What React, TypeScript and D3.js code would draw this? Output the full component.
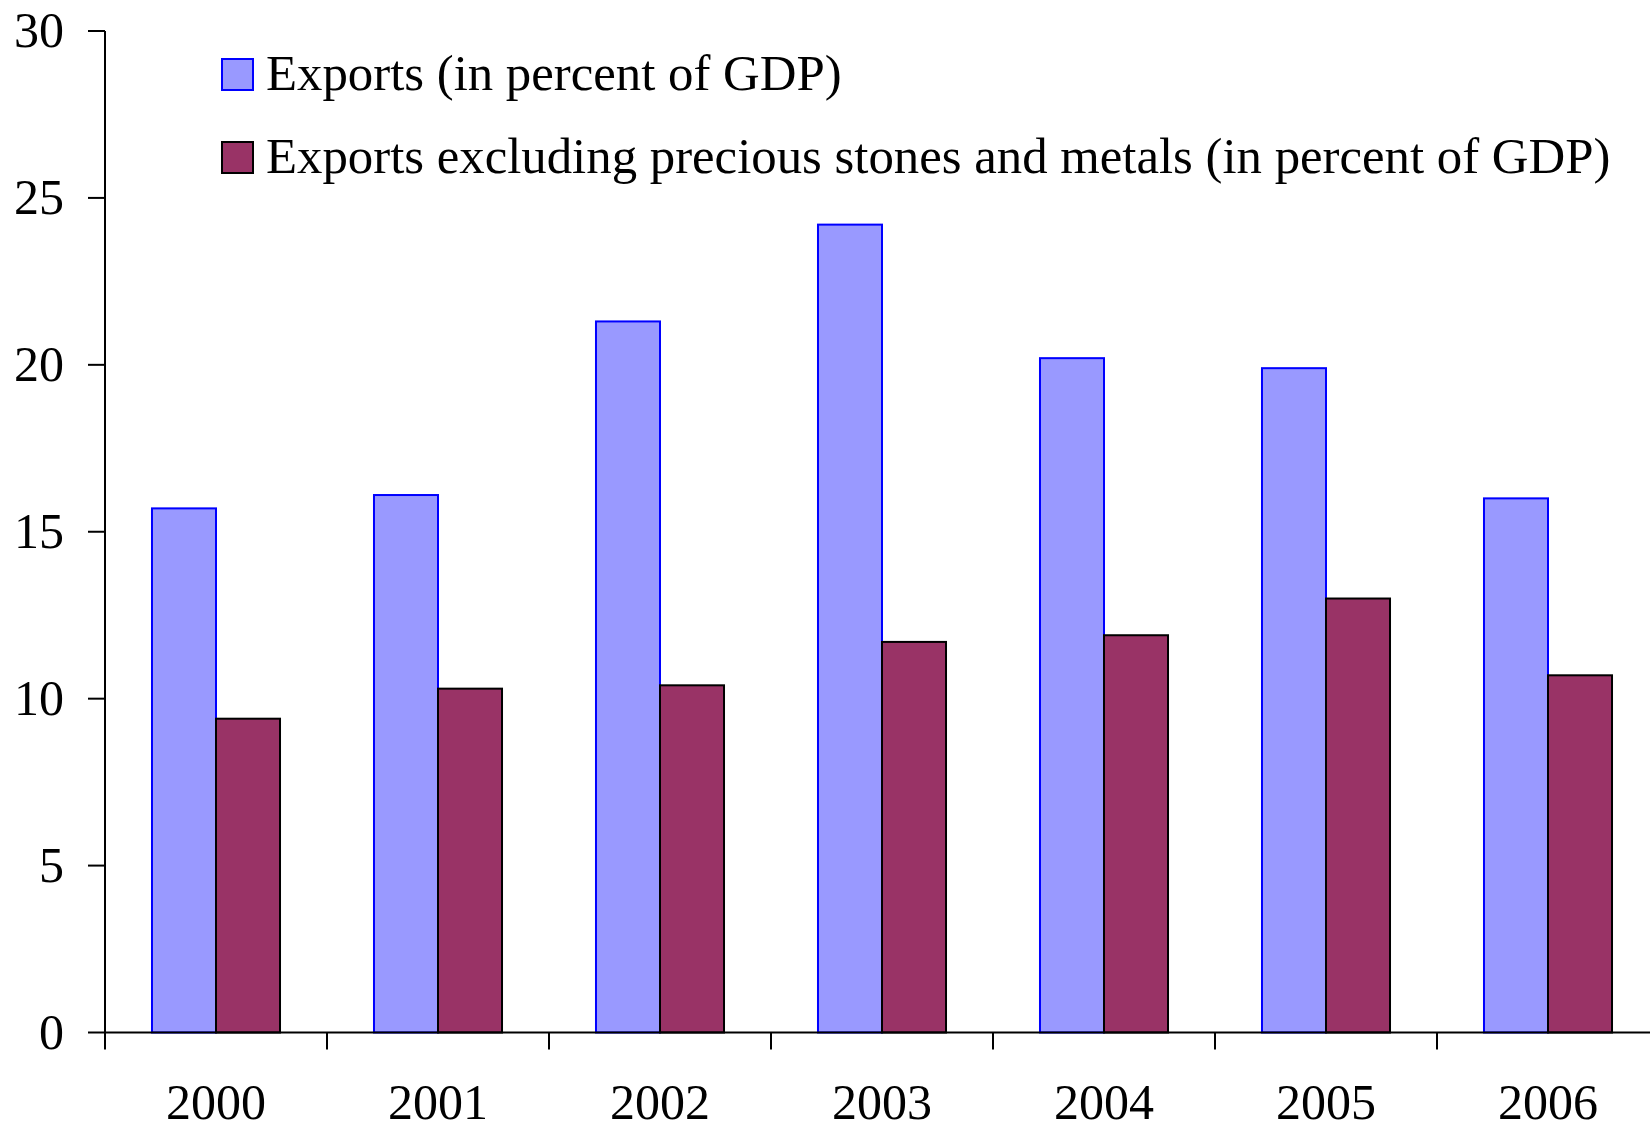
import React from "react";
import * as d3 from "d3";

const years = ["2000", "2001", "2002", "2003", "2004", "2005", "2006"];
const exportsTotal = [15.7, 16.1, 21.3, 24.2, 20.2, 19.9, 16.0];
const exportsExcl = [9.4, 10.3, 10.4, 11.7, 11.9, 13.0, 10.7];
const seriesNames = [
  "Exports (in percent of GDP)",
  "Exports excluding precious stones and metals (in percent of GDP)",
];
const seriesFill = ["#9999FF", "#993366"];
const seriesStroke = ["#0000FF", "#000000"];
const yTicks = [0, 5, 10, 15, 20, 25, 30];

const W = 1650;
const H = 1127;
const left = 105;
const step = 222;
const y0px = 1032.5;
const y30px = 31;
const font = "Liberation Serif";

export default function App() {
  const x0 = d3.scaleBand<string>().domain(years).range([left, left + step * years.length]).padding(0);
  const x1 = d3
    .scaleBand<number>()
    .domain([0, 1])
    .range([0, x0.bandwidth()])
    .paddingInner(0)
    .paddingOuter(0.734);
  const y = d3.scaleLinear().domain([0, 30]).range([y0px, y30px]);
  const data = [exportsTotal, exportsExcl];

  return (
    <svg
      width={W}
      height={H}
      style={{ position: "absolute", left: 0, top: 0, background: "#fff", fontFamily: font }}
    >
      {years.map((yr, i) => (
        <g key={yr}>
          {data.map((s, si) => (
            <rect
              key={si}
              x={(x0(yr) as number) + (x1(si) as number)}
              y={y(s[i])}
              width={x1.bandwidth()}
              height={y(0) - y(s[i])}
              fill={seriesFill[si]}
              stroke={seriesStroke[si]}
              strokeWidth={2}
            />
          ))}
        </g>
      ))}
      <line x1={left} x2={left} y1={y(30)} y2={y(0) + 17} stroke="#000" strokeWidth={2} />
      {yTicks.map((t) => (
        <g key={t}>
          <line x1={88} x2={left} y1={y(t)} y2={y(t)} stroke="#000" strokeWidth={2} />
          <text x={64} y={y(t) + 16} textAnchor="end" fontSize={50} fill="#000">
            {t}
          </text>
        </g>
      ))}
      <line x1={left} x2={W} y1={y(0)} y2={y(0)} stroke="#000" strokeWidth={2} />
      {years.map((yr) => (
        <g key={"t" + yr}>
          <line
            x1={(x0(yr) as number) + step}
            x2={(x0(yr) as number) + step}
            y1={y(0)}
            y2={y(0) + 17}
            stroke="#000"
            strokeWidth={2}
          />
          <text
            x={(x0(yr) as number) + x0.bandwidth() / 2}
            y={1119}
            textAnchor="middle"
            fontSize={50}
            fill="#000"
          >
            {yr}
          </text>
        </g>
      ))}
      {seriesNames.map((name, si) => (
        <g key={name}>
          <rect
            x={222}
            y={59 + si * 83}
            width={31}
            height={31}
            fill={seriesFill[si]}
            stroke={seriesStroke[si]}
            strokeWidth={2}
          />
          <text x={266} y={90 + si * 83} fontSize={50.8} fill="#000">
            {name}
          </text>
        </g>
      ))}
    </svg>
  );
}
